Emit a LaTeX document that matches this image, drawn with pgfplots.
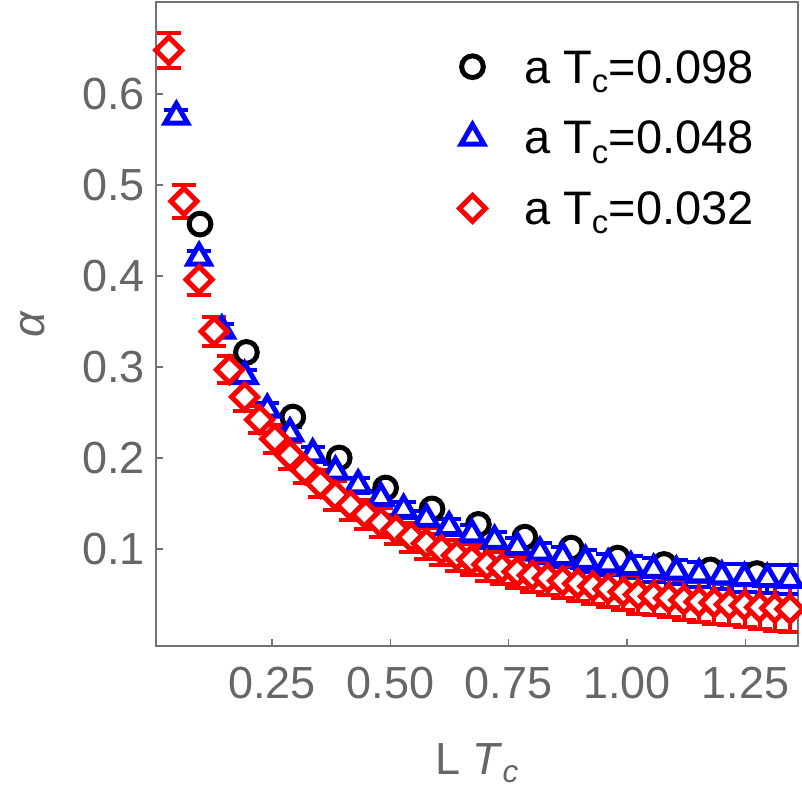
\documentclass[border=0pt]{standalone}
\usepackage{pgfplots}
\pgfplotsset{compat=1.18}
\usepackage{pgfplotstable}
\usepackage{fontspec}
\setmainfont{Liberation Sans}
\definecolor{tickgray}{RGB}{102,102,102}
\definecolor{framegray}{RGB}{115,115,115}
\definecolor{mblue}{RGB}{0,0,255}
\definecolor{mred}{RGB}{255,0,0}

\pgfplotstableread{
x y
0.098 0.457
0.196 0.316
0.294 0.245
0.392 0.200
0.490 0.167
0.588 0.144
0.686 0.127
0.784 0.113
0.882 0.101
0.980 0.090
1.078 0.083
1.176 0.077
1.274 0.073
}\circdata

\pgfplotstableread{
x y e
0.048 0.575 0.007
0.096 0.420 0.007
0.144 0.340 0.007
0.192 0.290 0.007
0.240 0.253 0.007
0.288 0.227 0.007
0.336 0.204 0.008
0.384 0.185 0.008
0.432 0.170 0.008
0.480 0.156 0.008
0.528 0.143 0.009
0.576 0.133 0.009
0.624 0.124 0.009
0.672 0.116 0.010
0.720 0.109 0.010
0.768 0.102 0.010
0.816 0.096 0.011
0.864 0.091 0.011
0.912 0.087 0.012
0.960 0.083 0.012
1.008 0.080 0.012
1.056 0.077 0.013
1.104 0.075 0.013
1.152 0.072 0.014
1.200 0.070 0.014
1.248 0.068 0.015
1.296 0.067 0.015
1.344 0.066 0.016
}\tridata

\pgfplotstableread{
x y e
0.032 0.648 0.019
0.064 0.482 0.018
0.096 0.396 0.017
0.128 0.339 0.016
0.160 0.297 0.015
0.192 0.267 0.015
0.224 0.242 0.015
0.256 0.221 0.015
0.288 0.203 0.015
0.320 0.187 0.015
0.352 0.172 0.015
0.384 0.159 0.016
0.416 0.148 0.016
0.448 0.138 0.016
0.480 0.129 0.016
0.512 0.121 0.016
0.544 0.113 0.016
0.576 0.106 0.017
0.608 0.099 0.017
0.640 0.093 0.017
0.672 0.088 0.017
0.704 0.083 0.018
0.736 0.079 0.018
0.768 0.075 0.018
0.800 0.071 0.018
0.832 0.068 0.019
0.864 0.065 0.019
0.896 0.062 0.019
0.928 0.059 0.020
0.960 0.056 0.020
0.992 0.053 0.020
1.024 0.050 0.021
1.056 0.048 0.021
1.088 0.046 0.021
1.120 0.044 0.022
1.152 0.042 0.022
1.184 0.041 0.023
1.216 0.039 0.023
1.248 0.038 0.024
1.280 0.036 0.024
1.312 0.035 0.025
1.344 0.034 0.025
}\diadata

\begin{document}
\begin{tikzpicture}
\begin{axis}[
  at={(156bp,143bp)}, anchor=south west,
  scale only axis, width=642bp, height=644bp,
  xmin=0.005, xmax=1.361, ymin=-0.0066, ymax=0.701,
  axis line style={framegray, line width=1.3bp},
  xtick={0.25,0.5,0.75,1.0,1.25},
  ytick={0.1,0.2,0.3,0.4,0.5,0.6},
  xtick pos=left, ytick pos=left,
  tick align=inside,
  major tick length=7bp,
  tick style={framegray, line width=1.3bp},
  /pgf/number format/assume math mode=true,
  every tick label/.append style={font=\fontsize{45bp}{54bp}\selectfont, text=tickgray},
  xticklabel style={anchor=base, yshift=-52bp, inner sep=0pt, /pgf/number format/.cd, fixed, fixed zerofill, precision=2},
  yticklabel style={anchor=east, xshift=-11bp, inner sep=0pt, /pgf/number format/.cd, fixed, fixed zerofill, precision=1},
  xlabel={L \textit{T}\textsubscript{\textit{c}}},
  xlabel style={at={(axis description cs:0.5,0)}, anchor=base, yshift=-128bp, font=\fontsize{45bp}{54bp}\selectfont, text=tickgray},
  ylabel={\textit{α}},
  ylabel style={at={(axis description cs:-0.1916,0.5)}, anchor=center, font=\fontsize{45bp}{54bp}\selectfont, text=tickgray},
  legend style={draw=none, fill=none, at={(axis description cs:0.4727,0.925)}, anchor=north west,
    inner sep=0pt, outer sep=0pt, row sep=38bp,
    font=\fontsize{47bp}{56bp}\selectfont, text=black,
    nodes={inner sep=0pt, text depth=0pt},
    /tikz/every odd column/.append style={column sep=38.5bp}},
  legend cell align=left,
  legend image code/.code={\draw[#1] plot coordinates {(0bp,0bp)};},
]
\addplot[only marks, mark=*, mark size=10.85bp, mark options={draw=black, fill=white, line width=5bp}] table[x=x,y=y]{\circdata};
\addlegendentry{a T\textsubscript{c}=0.098}

\addplot[forget plot, only marks, mark=none,
  error bars/.cd, y dir=both, y explicit,
  error bar style={mblue, line width=4bp},
  error mark options={rotate=90, mblue, mark size=12bp, line width=4bp}]
  table[x=x,y=y,y error=e]{\tridata};
\addplot[only marks, mark=triangle*, mark size=13bp, mark options={draw=mblue, fill=white, line width=5bp}] table[x=x,y=y]{\tridata};
\addlegendentry{a T\textsubscript{c}=0.048}

\addplot[forget plot, only marks, mark=none,
  error bars/.cd, y dir=both, y explicit,
  error bar style={mred, line width=4bp},
  error mark options={rotate=90, mred, mark size=12bp, line width=4bp}]
  table[x=x,y=y,y error=e]{\diadata};
\addplot[only marks, mark=square*, mark size=9.2bp, mark options={rotate=45, draw=mred, fill=white, line width=5bp}] table[x=x,y=y]{\diadata};
\addlegendentry{a T\textsubscript{c}=0.032}
\end{axis}
\pgfresetboundingbox
\useasboundingbox (0,0) rectangle (802bp,789bp);
\end{tikzpicture}
\end{document}
